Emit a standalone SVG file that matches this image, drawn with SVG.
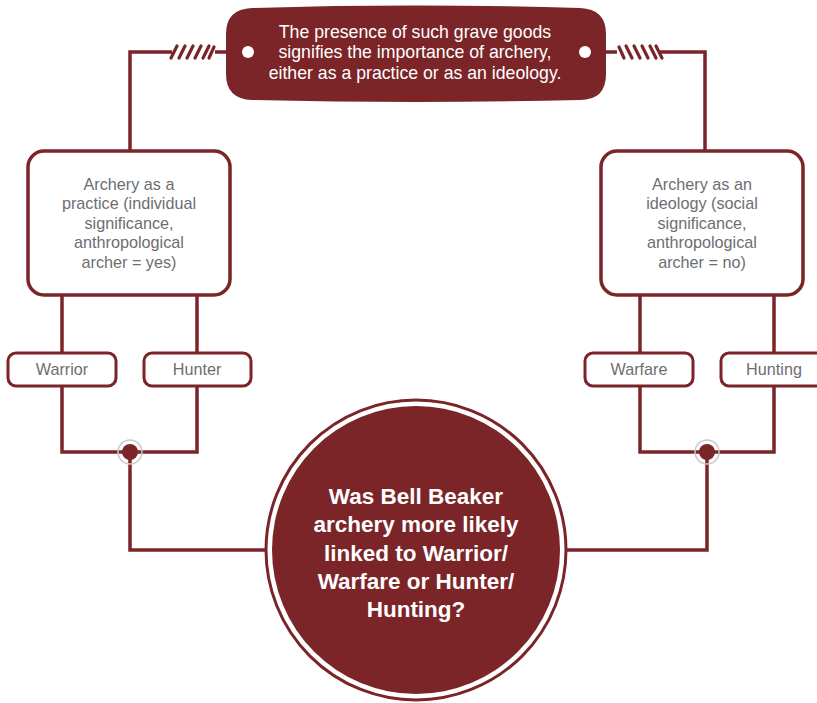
<svg xmlns="http://www.w3.org/2000/svg" width="817" height="703" viewBox="0 0 817 703">
<style>
.ln{fill:none;stroke:#7b2529;stroke-width:3.5}
.box{fill:#fff;stroke:#7b2529;stroke-width:3.5}
.sm{fill:#fff;stroke:#7b2529;stroke-width:3}
.gt{font-family:"Liberation Sans",Arial,sans-serif;font-size:16.2px;fill:#6d6e71;text-anchor:middle}
.wt{font-family:"Liberation Sans",Arial,sans-serif;font-size:17.7px;fill:#fff;text-anchor:middle}
.bt{font-family:"Liberation Sans",Arial,sans-serif;font-size:22.5px;font-weight:bold;fill:#fff;text-anchor:middle}
.halo{fill:none;stroke:#c8c8c8;stroke-width:1.5}
.spr{fill:none;stroke:#7b2529;stroke-width:3.2;stroke-linecap:round}
</style>
<g id="connectors">
<path class="ln" d="M248 52 H215 M172 52 H130 V152"/>
<path class="spr" d="M171 58 L177 46 M179 58 L185 46 M187 58 L193 46 M195 58 L201 46 M203 58 L209 46 M209 58 L214 47"/>
<path class="ln" d="M585 52 H617 M660 52 H705 V152"/>
<path class="spr" d="M619 47 L624 58 M626 46 L632 58 M634 46 L640 58 M642 46 L648 58 M650 46 L656 58 M656 46 L662 58"/>
<path class="ln" d="M62 295 V353 M197 295 V353 M62 386 V452 H197 V386 M130 452 V550 H268"/>
<path class="ln" d="M640 295 V353 M774 295 V353 M640 386 V452 H774 V386 M707 452 V550 H566"/>
<circle class="halo" cx="130" cy="452" r="12"/>
<circle cx="130" cy="452" r="8" fill="#7b2529"/>
<circle class="halo" cx="707" cy="452" r="12"/>
<circle cx="707" cy="452" r="8" fill="#7b2529"/>
</g>
<g id="top">
<path d="M252 8 Q415 3 580 8 Q606 9 606 34 L606 74 Q606 100 580 100 Q415 104 252 100 Q226 99 226 74 L226 34 Q226 9 252 8 Z" fill="#7b2529"/>
<circle cx="248" cy="52" r="6" fill="#fff"/>
<circle cx="585" cy="52" r="6" fill="#fff"/>
<text class="wt" x="415" y="38">The presence of such grave goods</text>
<text class="wt" x="415" y="58">signifies the importance of archery,</text>
<text class="wt" x="415" y="79">either as a practice or as an ideology.</text>
</g>
<g id="practice">
<rect class="box" x="28" y="151" width="202" height="144" rx="16"/>
<text class="gt" x="129" y="190">Archery as a</text>
<text class="gt" x="129" y="209">practice (individual</text>
<text class="gt" x="129" y="229">significance,</text>
<text class="gt" x="129" y="248">anthropological</text>
<text class="gt" x="129" y="268">archer = yes)</text>
</g>
<g id="ideology">
<rect class="box" x="601" y="151" width="202" height="144" rx="16"/>
<text class="gt" x="702" y="190">Archery as an</text>
<text class="gt" x="702" y="209">ideology (social</text>
<text class="gt" x="702" y="229">significance,</text>
<text class="gt" x="702" y="248">anthropological</text>
<text class="gt" x="702" y="268">archer = no)</text>
</g>
<g id="warrior">
<rect class="sm" x="8" y="353" width="108" height="33" rx="8"/>
<text class="gt" x="62" y="375">Warrior</text>
</g>
<g id="hunter">
<rect class="sm" x="144" y="353" width="107" height="33" rx="8"/>
<text class="gt" x="197" y="375">Hunter</text>
</g>
<g id="warfare">
<rect class="sm" x="585" y="353" width="108" height="33" rx="8"/>
<text class="gt" x="639" y="375">Warfare</text>
</g>
<g id="hunting">
<rect class="sm" x="721" y="353" width="108" height="33" rx="8"/>
<text class="gt" x="774" y="375">Hunting</text>
</g>
<g id="question">
<circle cx="416" cy="550" r="150" fill="#fff" stroke="#7b2529" stroke-width="3"/>
<circle cx="416" cy="550" r="144" fill="#7b2529"/>
<text class="bt" x="416" y="504">Was Bell Beaker</text>
<text class="bt" x="416" y="532">archery more likely</text>
<text class="bt" x="416" y="561">linked to Warrior/</text>
<text class="bt" x="416" y="589">Warfare or Hunter/</text>
<text class="bt" x="416" y="617">Hunting?</text>
</g>
</svg>
